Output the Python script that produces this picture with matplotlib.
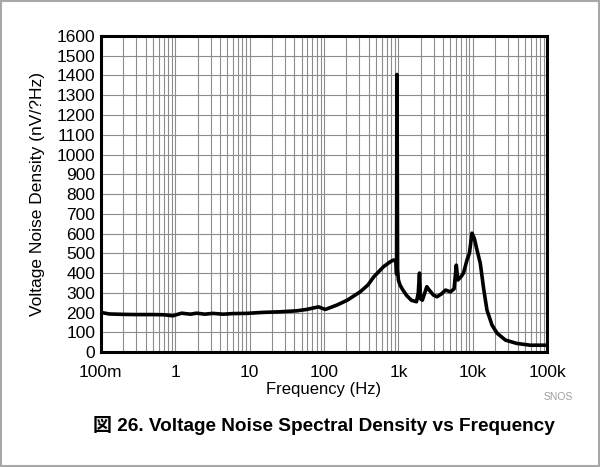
import matplotlib
matplotlib.use("Agg")
import matplotlib.pyplot as plt
from matplotlib.patches import Rectangle
from matplotlib.ticker import FixedLocator, LogLocator, NullFormatter

# noise curve (Hz, nV/rtHz)
freq = [0.1, 0.13, 0.2, 0.3, 0.5, 0.7, 0.93, 1.22, 1.6, 1.94, 2.5, 3.2, 4.4, 6.0,
        9.1, 15, 25.6, 43, 58.5, 84, 104, 149, 206, 306, 390, 467, 630, 775, 860,
        930, 945, 955, 965, 975, 1000, 1050, 1150, 1300, 1500, 1750, 1850, 1920,
        1980, 2100, 2410, 2600, 2950, 3300, 3800, 4300, 5000, 5600, 6000, 6300,
        6900, 7500, 8350, 9000, 9750, 10500, 11400, 12600, 14000, 15500, 18100,
        21200, 27400, 39000, 59000, 100000]
noise = [201, 193, 191, 190, 190, 189, 184, 197, 192, 197, 192, 196, 192, 195,
         196, 201, 204, 209, 216, 229, 216, 238, 263, 305, 340, 381, 432, 457, 466,
         460, 395, 1405, 1000, 420, 365, 340, 314, 285, 262, 255, 300, 400,
         270, 263, 331, 314, 289, 280, 295, 314, 305, 320, 440, 365,
         380, 400, 466, 500, 602, 575, 516, 450, 320, 213, 137,
         96, 61, 44, 35, 35]

x_ticks = [0.1, 1, 10, 100, 1e3, 1e4, 1e5]
x_labels = ["100m", "1", "10", "100", "1k", "10k", "100k"]
y_ticks = list(range(0, 1700, 100))

FONT = ["Liberation Sans", "DejaVu Sans"]
plt.rcParams["font.family"] = FONT

fig = plt.figure(figsize=(6.0, 4.67), dpi=100)
fig.patches.append(Rectangle((0.002, 0.002), 0.996, 0.996, transform=fig.transFigure,
                             fill=False, edgecolor="#a8a8a8", linewidth=1.5))
ax = fig.add_axes([0.168, 0.246, 0.744, 0.677])

ax.plot(freq, noise, color="black", linewidth=2.6, zorder=3)

ax.set_xscale("log")
ax.set_xlim(0.1, 1e5)
ax.set_ylim(0, 1600)
ax.xaxis.set_major_locator(FixedLocator(x_ticks))
ax.set_xticklabels(x_labels)
ax.xaxis.set_minor_locator(LogLocator(base=10, subs=range(2, 10)))
ax.xaxis.set_minor_formatter(NullFormatter())
ax.set_yticks(y_ticks)

ax.grid(which="both", axis="x", color="#8c8c8c", linewidth=0.8)
ax.grid(which="major", axis="y", color="#8c8c8c", linewidth=0.8)
ax.tick_params(which="both", length=0, labelsize=12.5)
ax.tick_params(axis="x", pad=9)
ax.tick_params(axis="y", pad=4)
for s in ax.spines.values():
    s.set_linewidth(2.2)

ax.set_xlabel("Frequency (Hz)", fontsize=12, labelpad=2)
ax.set_ylabel("Voltage Noise Density (nV/?Hz)", fontsize=12.5, labelpad=8)

fig.text(0.955, 0.149, "SNOS", fontsize=7.5, color="#a0a0a0", ha="right", va="center")
fig.text(0.54, 0.089, "図 26. Voltage Noise Spectral Density vs Frequency",
         fontsize=13.7, fontweight="bold", ha="center", va="center",
         family=["Liberation Sans", "Noto Sans CJK JP"])

fig.savefig("out.png", dpi=100)
